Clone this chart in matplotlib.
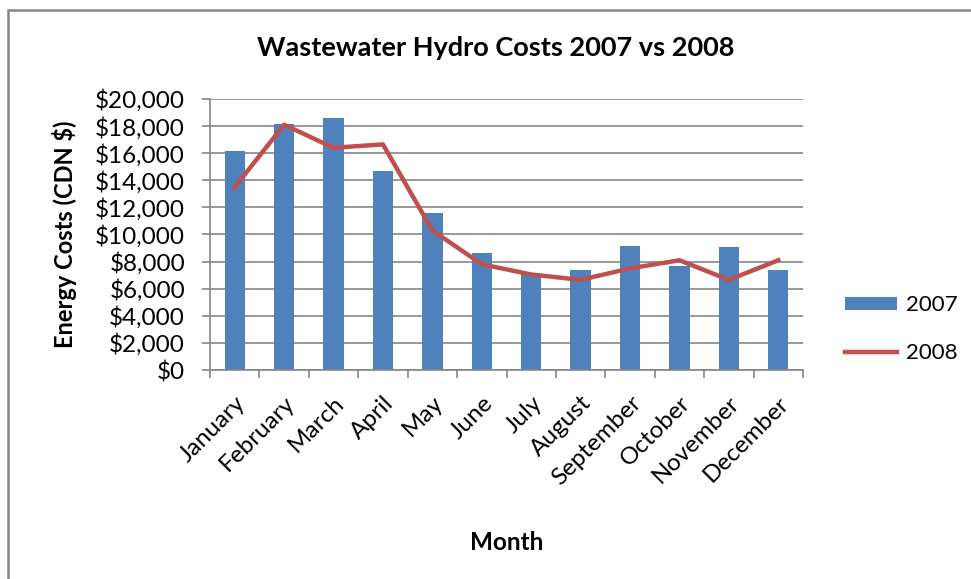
import matplotlib
matplotlib.use("Agg")
import matplotlib.pyplot as plt
from matplotlib.ticker import FuncFormatter, MultipleLocator
from matplotlib.patches import Rectangle

months = ["January", "February", "March", "April", "May", "June", "July",
          "August", "September", "October", "November", "December"]
costs_2007 = [16150, 18150, 18600, 14700, 11550, 8650, 7050, 7400, 9150, 7700, 9050, 7400]
costs_2008 = [13500, 18100, 16400, 16650, 10300, 7800, 7050, 6650, 7500, 8100, 6650, 8100]

plt.rcParams['font.family'] = ['Lato', 'DejaVu Sans']

fig = plt.figure(figsize=(9.71, 5.79), dpi=100)
# outer chart border (only left and top visible in the crop)
fig.patches.append(Rectangle((8/971, -0.1), 1.2, 1.1 - 10/579, transform=fig.transFigure,
                             fill=False, edgecolor="#868686", linewidth=1.8))

ax = fig.add_axes([210/971, 1-370/579, (803-210)/971, (370-99)/579])
x = list(range(len(months)))
bars = ax.bar(x, costs_2007, width=0.41, color="#4F81BD", label="2007", zorder=2)
line, = ax.plot(x, costs_2008, color="#C0504D", linewidth=3.2, label="2008", zorder=3)

ax.set_xlim(-0.5, 11.5)
ax.set_ylim(0, 20000)
ax.yaxis.set_major_locator(MultipleLocator(2000))
ax.yaxis.set_major_formatter(FuncFormatter(lambda v, p: "${:,.0f}".format(v)))
ax.grid(axis="y", color="#868686", linewidth=1.2, zorder=0)
ax.set_axisbelow(True)
for s in ["top", "right"]:
    ax.spines[s].set_visible(False)
for s in ["left", "bottom"]:
    ax.spines[s].set_color("#868686")
    ax.spines[s].set_linewidth(1.2)

ax.set_xticks(x)
ax.set_xticklabels(months, rotation=45, ha="right", rotation_mode="anchor", fontsize=17.5)
ax.set_xticks([i - 0.5 for i in range(13)], minor=True)
ax.tick_params(axis="x", which="major", length=0, pad=16)
ax.tick_params(axis="x", which="minor", length=6, color="#868686", width=1.2)
ax.tick_params(axis="y", labelsize=17.5, length=6, color="#868686", width=1.2,
               direction="out", pad=12)

fig.text(496/971, 1-48/579, "Wastewater Hydro Costs 2007 vs 2008", fontsize=19.5,
         fontweight="bold", ha="center", va="center")
ax.set_ylabel("Energy Costs (CDN $)", fontsize=17, fontweight="bold", labelpad=13)
ax.set_xlabel("Month", fontsize=17.5, fontweight="bold", labelpad=30)

leg = fig.legend(handles=[bars, line], labels=["2007", "2008"], loc="center left",
                 bbox_to_anchor=(845/971, 1-329/579), bbox_transform=fig.transFigure,
                 frameon=False, fontsize=16, handlelength=2.35, handleheight=0.55,
                 labelspacing=1.25, handletextpad=0.38, borderpad=0, borderaxespad=0)

fig.savefig("out.png", dpi=100)
